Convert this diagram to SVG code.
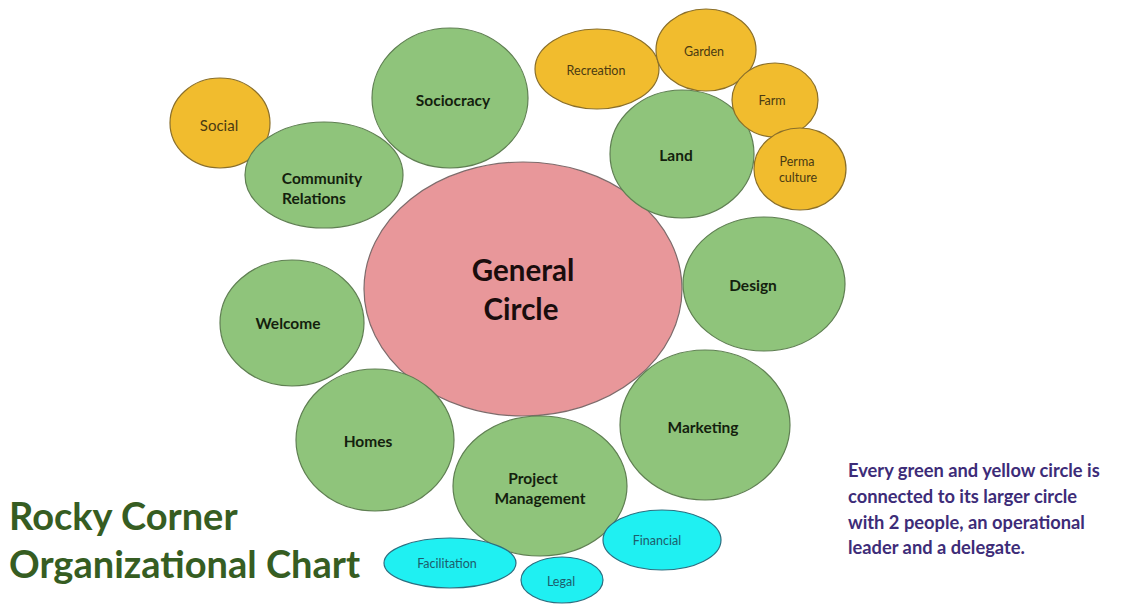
<svg xmlns="http://www.w3.org/2000/svg" width="1125" height="604" viewBox="0 0 1125 604">
<style>
.g{fill:#8fc47b;stroke:#5f7f52;stroke-width:1.2}
.y{fill:#f1bc2e;stroke:#8a6f2a;stroke-width:1.2}
.c{fill:#1ff0f2;stroke:#2c6f80;stroke-width:1.2}
.p{fill:#e8979a;stroke:#7d6b6b;stroke-width:1.2}
text{font-family:Lato,"Open Sans","Liberation Sans",sans-serif;text-anchor:middle}
.gt{font-weight:bold;fill:#141f0e;font-size:15.5px}
.yt{fill:#4a3a12;font-size:12.5px}
.ct{fill:#1d5d6c;font-size:12.5px}
.st{text-anchor:start}
</style>
<rect width="1125" height="604" fill="#ffffff"/>
<g id="connectors"/>
<g id="general-circle"><ellipse class="p" cx="523" cy="289" rx="159" ry="127"/><text x="523" y="281" font-size="29.5" font-weight="bold" fill="#1a0d0d">General</text><text x="521" y="320" font-size="29.5" font-weight="bold" fill="#1a0d0d">Circle</text></g>
<g id="sociocracy"><ellipse class="g" cx="450" cy="98" rx="78" ry="70"/><text class="gt" x="453" y="106">Sociocracy</text></g>
<g id="social"><ellipse class="y" cx="220" cy="123" rx="50" ry="45"/><text x="219" y="131" font-size="15" fill="#4a3a12">Social</text></g>
<g id="community-relations"><ellipse class="g" cx="324" cy="175" rx="79" ry="53"/><text class="gt" x="322" y="184" font-size="14.5">Community</text><text class="gt" x="314" y="204" font-size="14.5">Relations</text></g>
<g id="land"><ellipse class="g" cx="682" cy="154" rx="72" ry="64"/><text class="gt" x="676" y="161" font-size="16.5">Land</text></g>
<g id="recreation"><ellipse class="y" cx="597" cy="69" rx="62" ry="40"/><text class="yt" x="596" y="75">Recreation</text></g>
<g id="garden"><ellipse class="y" cx="706" cy="50" rx="50" ry="41"/><text class="yt" x="704" y="56">Garden</text></g>
<g id="farm"><ellipse class="y" cx="775" cy="100" rx="43" ry="37"/><text class="yt" x="772" y="105">Farm</text></g>
<g id="permaculture"><ellipse class="y" cx="800" cy="169" rx="46" ry="41"/><text class="yt" x="797" y="166">Perma</text><text class="yt" x="798" y="182">culture</text></g>
<g id="design"><ellipse class="g" cx="764" cy="284" rx="81" ry="67"/><text class="gt" x="753" y="291">Design</text></g>
<g id="welcome"><ellipse class="g" cx="292" cy="323" rx="72" ry="63"/><text class="gt" x="288" y="329" font-size="14.5">Welcome</text></g>
<g id="homes"><ellipse class="g" cx="375" cy="440" rx="79" ry="71"/><text class="gt" x="368" y="447">Homes</text></g>
<g id="marketing"><ellipse class="g" cx="705" cy="425" rx="85" ry="75"/><text class="gt" x="703" y="433">Marketing</text></g>
<g id="project-management"><ellipse class="g" cx="540" cy="486" rx="87" ry="70"/><text class="gt" x="533" y="484">Project</text><text class="gt" x="540" y="504">Management</text></g>
<g id="facilitation"><ellipse class="c" cx="450" cy="563" rx="66" ry="25"/><text class="ct" x="447" y="568">Facilitation</text></g>
<g id="legal"><ellipse class="c" cx="562" cy="580" rx="41" ry="23"/><text class="ct" x="561" y="586">Legal</text></g>
<g id="financial"><ellipse class="c" cx="662" cy="540" rx="59" ry="30"/><text class="ct" x="657" y="545">Financial</text></g>
<g id="title" font-size="38" font-weight="bold" fill="#365d22"><text class="st" x="9" y="530">Rocky Corner</text><text class="st" x="9" y="578">Organizational Chart</text></g>
<g id="note" font-size="18.3" font-weight="bold" fill="#3d2c78"><text class="st" x="848" y="477">Every green and yellow circle is</text><text class="st" x="848" y="503">connected to its larger circle</text><text class="st" x="848" y="529">with 2 people, an operational</text><text class="st" x="848" y="554">leader and a delegate.</text></g>
</svg>
